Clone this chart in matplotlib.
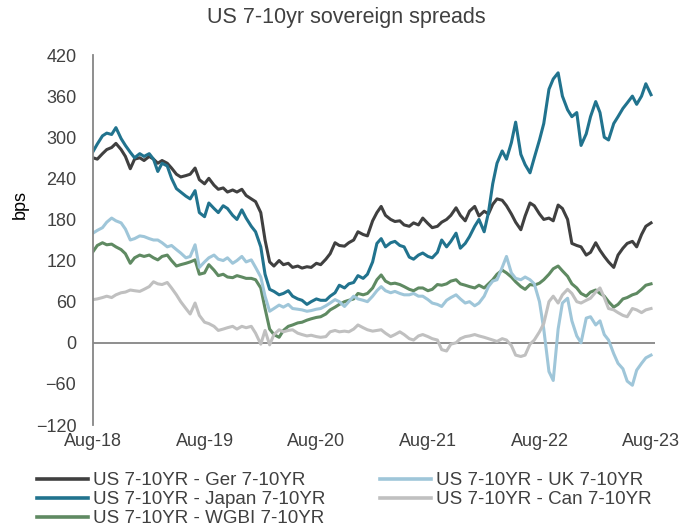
import numpy as np
import pandas as pd
import matplotlib
matplotlib.use("Agg")
import matplotlib.pyplot as plt
import matplotlib.dates as mdates

plt.rcParams['font.family'] = ['Liberation Sans', 'DejaVu Sans']

# semi-monthly observations, Aug-2018 .. Aug-2023 (bps)
dates = pd.date_range('2018-08-01', periods=121, freq='SMS')

ger = [270, 268, 276, 282, 285, 291, 282, 272, 254, 268, 270, 266, 272, 268, 262, 266,
       262, 255, 246, 242, 244, 246, 255, 238, 232, 240, 230, 224, 226, 220, 223, 220,
       224, 215, 210, 206, 190, 150, 118, 112, 120, 114, 116, 110, 112, 109, 111, 110,
       116, 114, 122, 130, 146, 142, 141, 146, 150, 162, 158, 156, 178, 190, 199, 186,
       180, 177, 178, 172, 170, 175, 172, 182, 174, 168, 170, 176, 180, 186, 197, 186,
       178, 192, 199, 185, 192, 188, 202, 210, 208, 200, 188, 176, 165, 185, 204, 200,
       188, 180, 182, 178, 201, 196, 180, 145, 142, 140, 128, 132, 146, 135, 126, 118,
       110, 128, 138, 145, 148, 140, 158, 170, 175]

japan = [279, 290, 302, 306, 304, 314, 298, 288, 278, 270, 276, 272, 276, 268, 250, 262,
         258, 240, 225, 220, 214, 210, 222, 190, 184, 204, 196, 190, 200, 196, 186, 180,
         194, 182, 170, 162, 140, 100, 78, 75, 70, 72, 76, 68, 64, 62, 56, 60,
         64, 62, 62, 68, 73, 84, 80, 86, 88, 98, 94, 100, 118, 145, 152, 140,
         146, 148, 142, 140, 125, 122, 128, 131, 126, 124, 132, 150, 140, 148, 160, 138,
         145, 155, 170, 180, 162, 190, 232, 262, 280, 268, 292, 322, 275, 260, 248, 270,
         296, 320, 370, 385, 394, 360, 340, 330, 336, 288, 305, 330, 352, 336, 300, 296,
         320, 330, 342, 350, 360, 348, 360, 378, 362]

wgbi = [133, 142, 146, 143, 144, 140, 136, 130, 116, 124, 128, 126, 128, 124, 121, 126,
        128, 120, 112, 114, 116, 118, 121, 100, 102, 114, 106, 98, 100, 96, 95, 98,
        96, 94, 94, 92, 80, 50, 20, 12, 8, 18, 24, 26, 29, 30, 33, 35,
        37, 38, 42, 48, 52, 56, 60, 62, 64, 72, 70, 72, 80, 92, 99, 90,
        86, 87, 85, 82, 78, 76, 80, 80, 76, 78, 85, 84, 86, 90, 92, 86,
        84, 82, 80, 84, 80, 86, 92, 100, 106, 102, 96, 89, 82, 78, 85, 84,
        87, 92, 100, 108, 112, 105, 97, 86, 80, 72, 68, 74, 77, 72, 68, 60,
        52, 56, 64, 66, 70, 72, 78, 84, 86]

uk = [160, 164, 168, 176, 182, 178, 175, 166, 150, 152, 156, 155, 152, 150, 150, 146,
      140, 142, 136, 131, 124, 126, 143, 110, 118, 124, 128, 122, 120, 124, 116, 120,
      126, 118, 121, 110, 96, 68, 46, 50, 55, 52, 56, 50, 49, 48, 46, 47,
      49, 50, 54, 58, 63, 60, 53, 60, 68, 64, 62, 60, 68, 76, 82, 76,
      73, 75, 72, 70, 70, 72, 68, 68, 63, 58, 56, 53, 62, 66, 70, 64,
      58, 60, 54, 58, 68, 82, 90, 92, 110, 126, 102, 94, 92, 96, 92, 86,
      60, 20, -42, -55, 20, 58, 65, 32, 10, 0, 36, 38, 26, 32, 12, 4,
      -16, -30, -38, -56, -62, -40, -30, -22, -18]

can = [63, 64, 66, 68, 66, 70, 73, 74, 77, 76, 75, 78, 82, 89, 86, 85,
       88, 80, 70, 60, 50, 42, 58, 40, 30, 28, 24, 18, 20, 22, 24, 20,
       24, 22, 24, 14, -2, 18, -3, 12, 19, 16, 18, 19, 14, 12, 10, 11,
       9, 8, 9, 16, 18, 16, 17, 16, 20, 26, 22, 19, 17, 18, 19, 14,
       9, 12, 16, 12, 6, 4, 10, 12, 9, 6, 4, -10, -12, -2, 0, 6,
       9, 10, 12, 10, 8, 6, 4, 2, 6, 4, -4, -18, -20, -18, -2, 4,
       16, 28, 60, 68, 58, 70, 78, 72, 60, 58, 62, 65, 74, 80, 66, 50,
       48, 44, 40, 38, 50, 48, 44, 48, 50]

series = [
    ("US 7-10YR - Ger 7-10YR", ger, "#404040"),
    ("US 7-10YR - Japan 7-10YR", japan, "#21738e"),
    ("US 7-10YR - WGBI 7-10YR", wgbi, "#5f8a62"),
    ("US 7-10YR - UK 7-10YR", uk, "#9fc6d9"),
    ("US 7-10YR - Can 7-10YR", can, "#c0c0c0"),
]

fig = plt.figure(figsize=(6.83, 5.29), dpi=100)
ax = fig.add_axes([93/683, 1 - 425/529, (655 - 93)/683, (425 - 55)/529])

for name, vals, col in series:
    ax.plot(dates, vals, color=col, lw=2.2, label=name)

ax.axhline(0, color="#868686", lw=1.3, zorder=0)

ax.set_ylim(-120, 420)
ax.set_yticks(np.arange(-120, 421, 60))
ax.set_xlim(pd.Timestamp('2018-08-01'), pd.Timestamp('2023-08-14'))
ax.xaxis.set_major_locator(mdates.MonthLocator(bymonth=8))
ax.xaxis.set_major_formatter(mdates.DateFormatter('%b-%y'))

for s in ['top', 'right', 'bottom']:
    ax.spines[s].set_visible(False)
ax.spines['left'].set_color("#868686")
ax.spines['left'].set_linewidth(1.3)
ax.tick_params(axis='both', length=0, labelsize=13, colors="#404040")
ax.tick_params(axis='y', pad=12)
ax.tick_params(axis='x', pad=6)

fig.text(346/683, 1 - 18/529, "US 7-10yr sovereign spreads", ha='center', va='center',
         fontsize=15.5, color="#404040")
fig.text(20/683, 1 - 205/529, "bps", rotation=90, ha='center', va='center',
         fontsize=13, color="#000000")

leg = fig.legend(loc='upper left', bbox_to_anchor=(37/683, 1 - 472/529), ncol=2,
                 frameon=False, fontsize=13.5, handlelength=2.7, handletextpad=0.3,
                 columnspacing=2.9, labelspacing=0.1, borderaxespad=0, borderpad=0)
for t in leg.get_texts():
    t.set_color("#404040")
for h in leg.get_lines():
    h.set_linewidth(2.6)

fig.savefig("out.png", dpi=100)
